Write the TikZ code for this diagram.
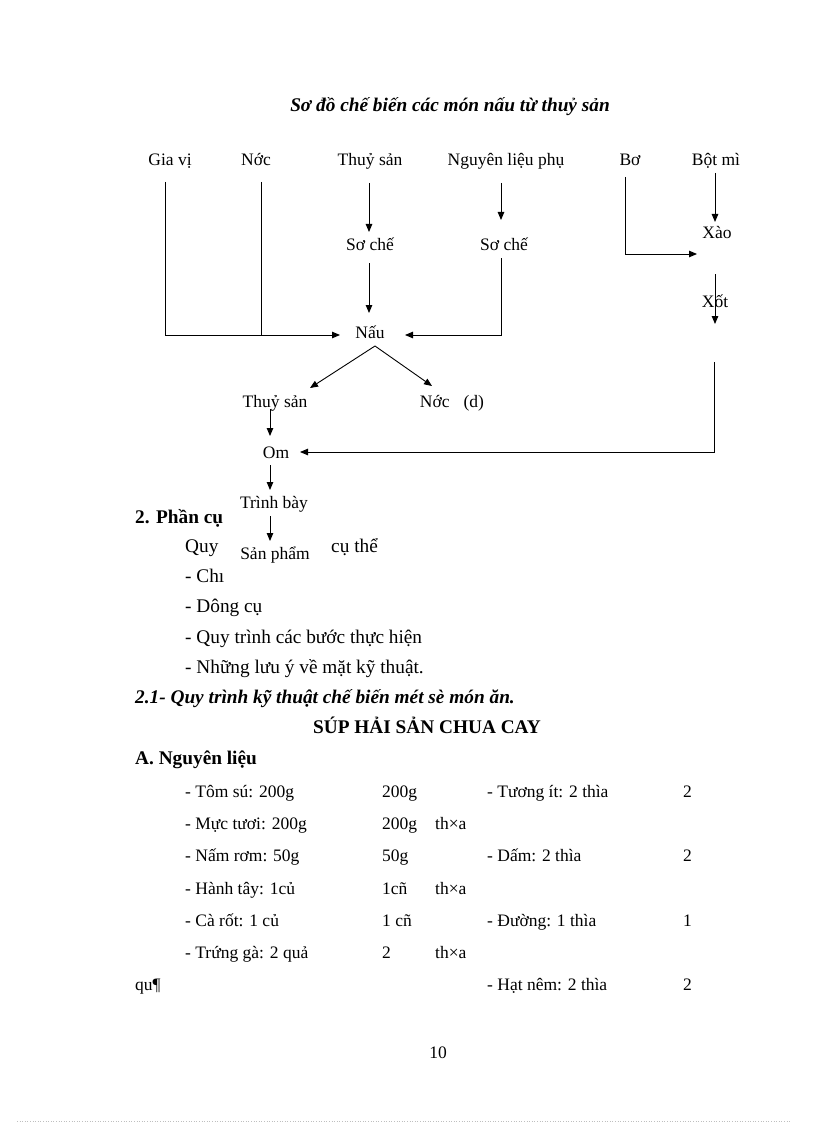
\documentclass[tikz,border=0pt]{standalone}
\usepackage{fontspec}
\setmainfont{Liberation Serif}
\usetikzlibrary{arrows.meta}
\begin{document}
\begin{tikzpicture}[x=1pt,y=-1pt,
  txt/.style={inner sep=0pt, font=\fontsize{17.5}{20}\selectfont},
  lbl/.style={txt, anchor=base},
  lft/.style={txt, anchor=base west},
  big/.style={font=\fontsize{19.3}{22}\selectfont},
  bld/.style={font=\fontsize{19.3}{22}\selectfont\bfseries},
  bit/.style={font=\fontsize{19.3}{22}\selectfont\bfseries\itshape},
  ln/.style={line width=0.9pt, black},
  arr/.style={ln, -{Triangle[length=8pt,width=6.5pt]}},
]
\useasboundingbox (0,0) rectangle (816,1123);
\fill[white] (0,0) rectangle (816,1123);

% title
\node[lbl, bit] (title) at (450,112) {Sơ đồ chế biến các món nấu từ thuỷ sản};

% top row
\node[lbl] (giavi) at (170,166) {Gia vị};
\node[lbl] (nuoc) at (256,166) {Nớc};
\node[lbl] (thuysan) at (370,166) {Thuỷ sản};
\node[lbl] (nlp) at (506,166) {Nguyên liệu phụ};
\node[lbl] (bo) at (630,166) {Bơ};
\node[lbl] (botmi) at (716,166) {Bột mì};

\node[lbl] (sc1) at (370,251) {Sơ chế};
\node[lbl] (sc2) at (504,251) {Sơ chế};
\node[lbl] (nau) at (370,338) {Nấu};
\node[lbl] (xao) at (717,239) {Xào};
\node[lbl] (xot) at (715,307) {Xốt};
\node[lbl] (ts2) at (275,407) {Thuỷ sản};
\node[lbl] (nuocd) at (452,407) {Nớc\hspace{14pt}(d)};
\node[lbl] (om) at (276,458) {Om};
\node[lbl] (tb) at (274,508) {Trình bày};
\node[lbl] (sp) at (275,559) {Sản phẩm};

% connector end points
\coordinate (gA) at (165,182);
\coordinate (gB) at (165,335);
\coordinate (nA) at (261,182);
\coordinate (nB) at (261,335);
\coordinate (nauL) at (340,335);
\coordinate (nauR) at (405,335);
\coordinate (tsA) at (369,183);
\coordinate (sc1T) at (369,232);
\coordinate (sc1B) at (369,263);
\coordinate (nauT) at (369,313);
\coordinate (nlpA) at (501,183);
\coordinate (sc2T) at (501,220);
\coordinate (sc2B) at (501,258);
\coordinate (sc2C) at (501,335);
\coordinate (boA) at (625,177);
\coordinate (boB) at (625,254);
\coordinate (xaoL) at (697,254);
\coordinate (bmA) at (715,173);
\coordinate (xaoT) at (715,222);
\coordinate (xotA) at (715,274);
\coordinate (xotB) at (715,324);
\coordinate (lnA) at (714,362);
\coordinate (lnB) at (714,452);
\coordinate (omR) at (300,452);
\coordinate (apex) at (375,346);
\coordinate (ts2T) at (310,388);
\coordinate (nuocT) at (432,386);
\coordinate (ts2B) at (270,409);
\coordinate (omT) at (270,436);
\coordinate (omB) at (270,465);
\coordinate (tbT) at (270,490);
\coordinate (tbB) at (270,516);
\coordinate (spT) at (270,541);

\draw[arr] (gA) -- (gB) -- (nauL);
\draw[ln] (nA) -- (nB);
\draw[arr] (tsA) -- (sc1T);
\draw[arr] (sc1B) -- (nauT);
\draw[arr] (nlpA) -- (sc2T);
\draw[arr] (sc2B) -- (sc2C) -- (nauR);
\draw[arr] (boA) -- (boB) -- (xaoL);
\draw[arr] (bmA) -- (xaoT);
\draw[arr] (xotA) -- (xotB);
\draw[arr] (lnA) -- (lnB) -- (omR);
\draw[arr] (apex) -- (ts2T);
\draw[arr] (apex) -- (nuocT);
\draw[arr] (ts2B) -- (omT);
\draw[arr] (omB) -- (tbT);
\draw[arr] (tbB) -- (spT);

% body text
\node[lft, bld] (h2) at (135,523) {2. Phần cụ};
\node[lft, big] (quy) at (185,552) {Quy};
\node[lft, big] (cuthe) at (331,552) {cụ thể};
\node[lft, big] (l1) at (185,582) {- Chı};
\node[lft, big] (l2) at (185,612) {- Dông cụ};
\node[lft, big] (l3) at (185,643) {- Quy trình các bước thực hiện};
\node[lft, big] (l4) at (185,673) {- Những lưu ý về mặt kỹ thuật.};
\node[lft, bit] (h21) at (135,703) {2.1- Quy trình kỹ thuật chế biến mét sè món ăn.};
\node[lbl, bld] (sup) at (427,733) {SÚP HẢI SẢN CHUA CAY};
\node[lft, bld] (hA) at (135,764) {A. Nguyên liệu};

\node[lft] (r1a) at (185,797) {- Tôm sú: 200g};
\node[lft] (r1b) at (382,797) {200g};
\node[lft] (r1d) at (487,797) {- Tương ít: 2 thìa};
\node[lft] (r1e) at (683,797) {2};

\node[lft] (r2a) at (185,829) {- Mực tươi: 200g};
\node[lft] (r2b) at (382,829) {200g};
\node[lft] (r2c) at (435,829) {th×a};

\node[lft] (r3a) at (185,861) {- Nấm rơm: 50g};
\node[lft] (r3b) at (382,861) {50g};
\node[lft] (r3d) at (487,861) {- Dấm: 2 thìa};
\node[lft] (r3e) at (683,861) {2};

\node[lft] (r4a) at (185,894) {- Hành tây: 1củ};
\node[lft] (r4b) at (382,894) {1cñ};
\node[lft] (r4c) at (435,894) {th×a};

\node[lft] (r5a) at (185,926) {- Cà rốt: 1 củ};
\node[lft] (r5b) at (382,926) {1 cñ};
\node[lft] (r5d) at (487,926) {- Đường: 1 thìa};
\node[lft] (r5e) at (683,926) {1};

\node[lft] (r6a) at (185,958) {- Trứng gà: 2 quả};
\node[lft] (r6b) at (382,958) {2};
\node[lft] (r6c) at (435,958) {th×a};

\node[lft] (r7a) at (135,990) {qu¶};
\node[lft] (r7d) at (487,990) {- Hạt nêm: 2 thìa};
\node[lft] (r7e) at (683,990) {2};

\node[lbl] (pg) at (438,1058) {10};

\draw[gray!50, dotted, line width=0.6pt] (17,1121) -- (790,1121);
\end{tikzpicture}
\end{document}
